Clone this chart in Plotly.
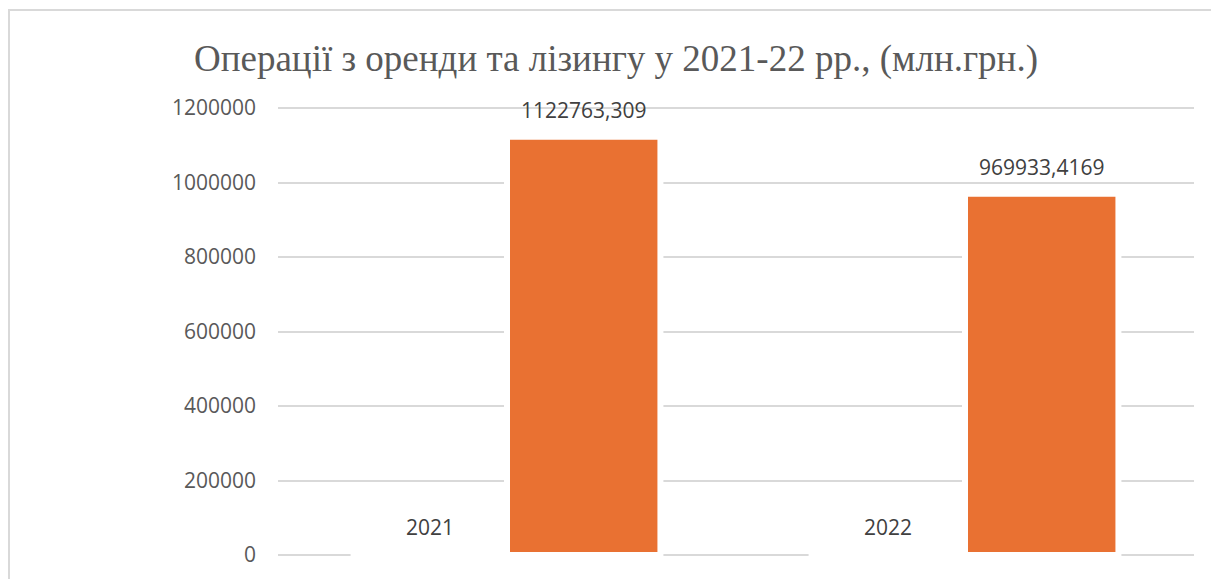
import plotly.graph_objects as go

# дані
years = ["2021", "2022"]
year_labels = [2021, 2022]  # перший ряд (підписи років)
values = [1122763.309, 969933.4169]  # оренда та лізинг, млн.грн.
value_labels = ["1122763,309", "969933,4169"]
y_ticks = [0, 200000, 400000, 600000, 800000, 1000000, 1200000]

# сторінка має відступ 8px, тому координати зсунуті
W, H = 1219, 579
PAD = 2  # px запасу, щоб крайні лінії сітки не обрізались
L, R, T, B = 270, 33, 100 - PAD, 32 - PAD
pw, ph = W - L - R, H - T - B
y_pad = PAD * y_ticks[-1] / (ph - 2 * PAD)
BARGAP = 0.33
slot = pw / 2 * (1 - BARGAP) / 2  # ширина одного стовпчика, px

fig = go.Figure()
fig.add_trace(go.Bar(
    x=years, y=year_labels,
    marker=dict(color="white", line=dict(color="white", width=6)),
))
fig.add_trace(go.Bar(
    x=years, y=values,
    marker=dict(color="#E97132", line=dict(color="white", width=6)),
))

label_font = dict(family="Open Sans", size=21, color="#404040")
annotations = []
for i, v in enumerate(year_labels):
    annotations.append(dict(x=i, y=v, text=str(v), showarrow=False, xshift=-slot / 2,
                            yshift=27, yanchor="middle", font=label_font))
for i, (v, t) in enumerate(zip(values, value_labels)):
    annotations.append(dict(x=i, y=v, text=t, showarrow=False, xshift=slot / 2,
                            yshift=27, yanchor="middle", font=label_font))

fig.update_layout(
    width=W, height=H,
    margin=dict(l=L, r=R, t=T, b=B),
    plot_bgcolor="white", paper_bgcolor="white",
    barmode="group", bargap=BARGAP, bargroupgap=0,
    showlegend=False,
    title=dict(
        text="Операції з оренди та лізингу у 2021-22 рр., (млн.грн.)",
        font=dict(family="Liberation Serif", size=37, color="#595959"),
        x=608 / W, xanchor="center", y=1 - 50 / H, yanchor="middle",
    ),
    xaxis=dict(type="category", range=[-0.5, 1.5], showticklabels=False,
               showgrid=False, zeroline=False, showline=False),
    yaxis=dict(
        range=[-y_pad, y_ticks[-1] + y_pad], tickvals=y_ticks,
        ticktext=[str(t) for t in y_ticks],
        showgrid=True, gridcolor="#D9D9D9", gridwidth=1.5, zeroline=False,
        tickfont=dict(family="Open Sans", size=21, color="#595959"),
        ticklabelstandoff=21,
    ),
    annotations=annotations,
    shapes=[dict(
        type="rect", xref="paper", yref="paper", layer="below",
        x0=(1 - L) / pw, x1=(W + 20 - L) / pw,
        y0=(H - 2 - B) / ph, y1=-(B + 20) / ph,
        line=dict(color="#D9D9D9", width=2), fillcolor="rgba(0,0,0,0)",
    )],
)

fig.write_html("out.html")
